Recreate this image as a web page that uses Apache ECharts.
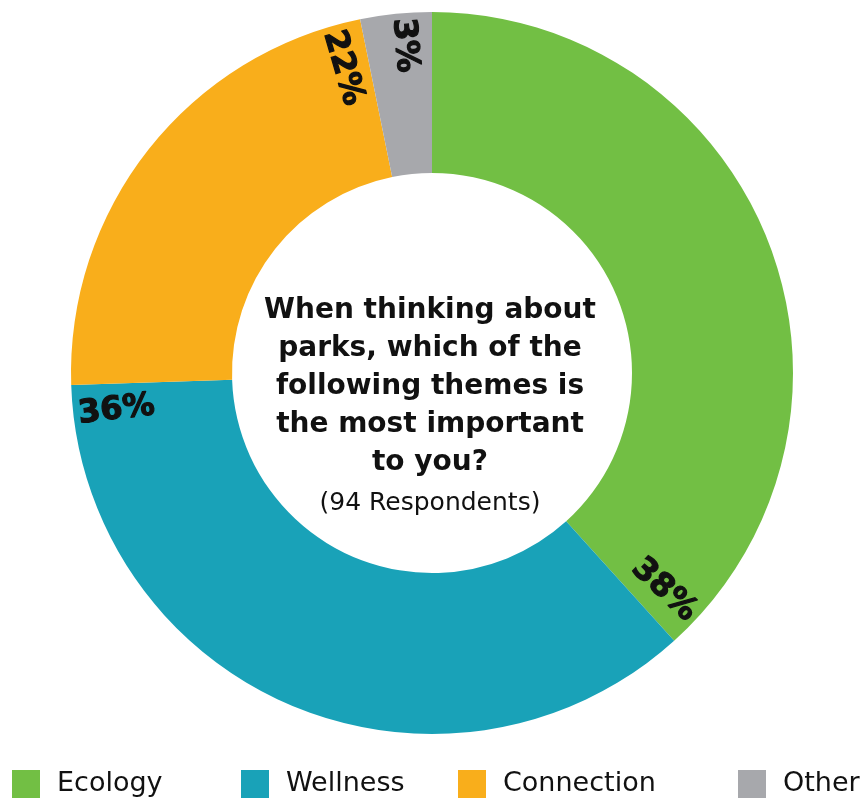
<!DOCTYPE html>
<html><head><meta charset="utf-8">
<script src="https://cdn.jsdelivr.net/npm/echarts@6/dist/echarts.min.js"></script>
<style>html,body{margin:0;padding:0;background:#fff}#c{width:860px;height:799px}</style>
</head><body><div id="c"></div>
<script>
// ---- data ----
const categories = ['Ecology', 'Wellness', 'Connection', 'Other'];
const counts = [36, 34, 21, 3];           // respondents per theme (94 total)
const colors = ['#72BF44', '#19A2B8', '#F9AE1B', '#A7A8AC'];
const titleLines = ['When thinking about', 'parks, which of the', 'following themes is', 'the most important', 'to you?'];
const subtitle = '(94 Respondents)';
const legendLeft = [12, 241, 458, 738];
const labelSide = ['right', 'left', 'left', 'left'];

// ---- layout ----
const FONT = '"DejaVu Sans", sans-serif';
const total = counts.reduce((a, b) => a + b, 0);
const CX = 432, CY = 373, R0 = 200, R1 = 361;
const LABEL_OUTER = 353, BOX = 110;
const ANCHOR = LABEL_OUTER - BOX / 2;
const delta = total * 9.6 / 360;

const mainData = categories.map((c, i) => ({ name: c, value: counts[i], itemStyle: { color: colors[i] } }));
const overlayData = [];
counts.forEach((v, i) => {
  overlayData.push({ name: categories[i] + '_a', value: v - delta, label: { show: false } });
  overlayData.push({
    name: categories[i] + '_b', value: delta,
    label: { show: true, formatter: '{' + labelSide[i] + '|' + Math.round(v / total * 100) + '%}' }
  });
});

const labelTok = { width: BOX, fontSize: 32, fontWeight: 'bold', color: '#111', fontFamily: FONT,
  textBorderColor: '#111', textBorderWidth: 1.2 };

const chart = echarts.init(document.getElementById('c'), null, { renderer: 'canvas' });
chart.setOption({
  animation: false,
  backgroundColor: '#fff',
  title: {
    text: titleLines.join('\n'),
    subtext: subtitle,
    left: 'center', top: 292, padding: [0, 0, 0, 12], itemGap: 3,
    textStyle: { fontFamily: FONT, fontSize: 28, fontWeight: 'bold', color: '#111', lineHeight: 38 },
    subtextStyle: { fontFamily: FONT, fontSize: 25, fontWeight: 'normal', color: '#111', lineHeight: 36 }
  },
  legend: categories.map((c, i) => ({
    data: [c], left: legendLeft[i], top: 770, padding: 0, itemWidth: 28, itemHeight: 28, icon: 'rect',
    selectedMode: false,
    textStyle: { fontFamily: FONT, fontSize: 27, color: '#111', padding: [0, 0, 0, 12] }
  })),
  series: [
    {
      type: 'pie', center: [CX, CY], radius: [R0, R1], startAngle: 90, clockwise: true,
      data: mainData, label: { show: false }, labelLine: { show: false },
      itemStyle: { borderWidth: 0 }, silent: true, emphasis: { disabled: true }
    },
    {
      type: 'pie', center: [CX, CY], radius: [ANCHOR - 4, ANCHOR + 4], startAngle: 90, clockwise: true,
      data: overlayData, silent: true, emphasis: { disabled: true }, z: 5,
      itemStyle: { color: 'rgba(0,0,0,0)', borderWidth: 0 }, labelLine: { show: false },
      label: {
        position: 'inside', rotate: 'radial',
        rich: { left: Object.assign({ align: 'left' }, labelTok), right: Object.assign({ align: 'right' }, labelTok) }
      }
    }
  ]
});
</script></body></html>
